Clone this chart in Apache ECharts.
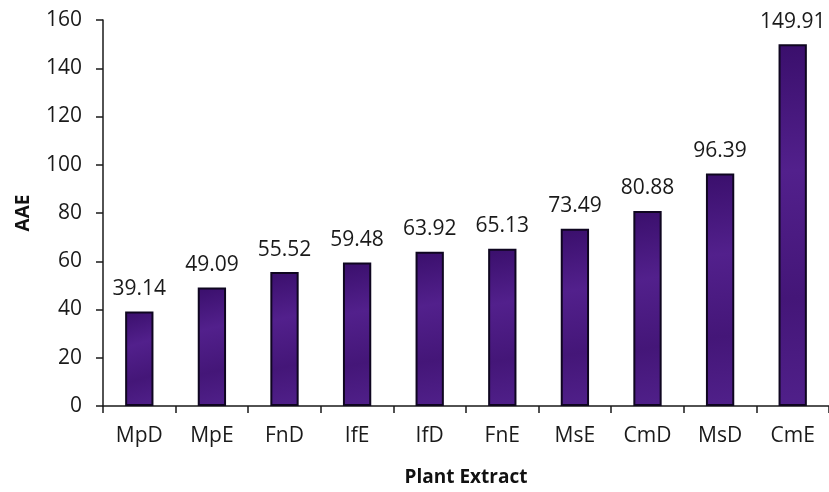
<!DOCTYPE html>
<html>
<head>
<meta charset="utf-8">
<script src="https://cdn.jsdelivr.net/npm/echarts@6/dist/echarts.min.js"></script>
<style>
  html, body { margin: 0; padding: 0; background: #ffffff; }
  #chart { width: 829px; height: 492px; }
</style>
</head>
<body>
<div id="chart"></div>
<script>
// Plant extracts and their AAE values
const categories = ['MpD', 'MpE', 'FnD', 'IfE', 'IfD', 'FnE', 'MsE', 'CmD', 'MsD', 'CmE'];
const aaeValues = [39.14, 49.09, 55.52, 59.48, 63.92, 65.13, 73.49, 80.88, 96.39, 149.91];
const yTicks = [0, 20, 40, 60, 80, 100, 120, 140, 160];

const font = '"Open Sans", "Liberation Sans", sans-serif';
const chart = echarts.init(document.getElementById('chart'), null, { renderer: 'canvas' });

chart.setOption({
  backgroundColor: '#ffffff',
  animation: false,
  grid: { left: 103, top: 20, width: 728, height: 388, containLabel: false },
  xAxis: {
    type: 'category',
    data: categories,
    name: 'Plant Extract',
    nameLocation: 'middle',
    nameGap: 62,
    nameTextStyle: { fontFamily: font, fontWeight: 'bold', fontSize: 19, color: '#111' },
    axisLine: { lineStyle: { color: '#1a1a1a', width: 1.5 } },
    axisTick: { show: true, length: 7, lineStyle: { color: '#1a1a1a', width: 1.5 } },
    axisLabel: { fontFamily: font, fontSize: 21, color: '#1a1a1a', margin: 20 }
  },
  yAxis: {
    type: 'value',
    min: yTicks[0],
    max: yTicks[yTicks.length - 1],
    interval: 20,
    name: 'AAE',
    nameLocation: 'middle',
    nameGap: 70,
    nameTextStyle: { fontFamily: font, fontWeight: 'bold', fontSize: 19, color: '#111' },
    axisLine: { show: true, lineStyle: { color: '#1a1a1a', width: 1.5 } },
    axisTick: { show: true, length: 7, lineStyle: { color: '#1a1a1a', width: 1.5 } },
    axisLabel: { fontFamily: font, fontSize: 21, color: '#1a1a1a', margin: 21 },
    splitLine: { show: false }
  },
  series: [{
    type: 'bar',
    data: aaeValues,
    barWidth: '39%',
    itemStyle: {
      color: new echarts.graphic.LinearGradient(0, 0, 1, 1, [
        { offset: 0, color: '#3a0f6c' },
        { offset: 0.35, color: '#52208c' },
        { offset: 0.7, color: '#441678' },
        { offset: 1, color: '#50208a' }
      ]),
      borderColor: '#0f0620',
      borderWidth: 2
    },
    label: {
      show: true,
      position: 'top',
      distance: 12,
      fontFamily: font,
      fontSize: 21,
      color: '#1a1a1a',
      formatter: p => p.value.toFixed(2)
    }
  }]
});
</script>
</body>
</html>
